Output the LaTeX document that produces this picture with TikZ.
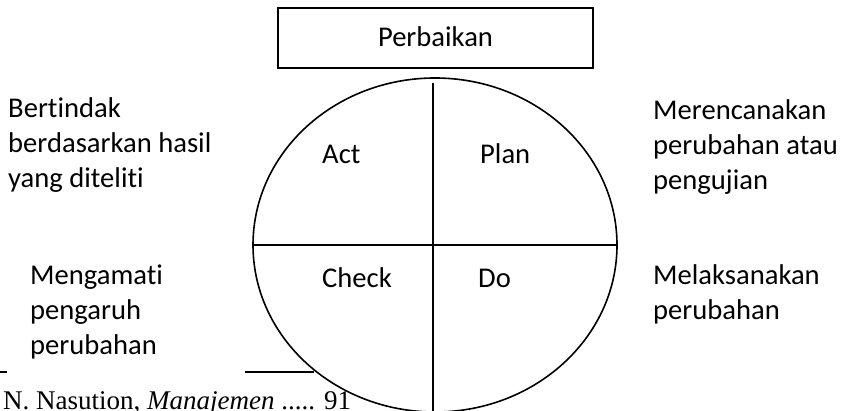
\documentclass[tikz,border=0pt]{standalone}
\usepackage{fontspec}
\setmainfont{Carlito}[Ligatures=CommonOff]
\newfontfamily\refserif{Liberation Serif}
\begin{document}
\begin{tikzpicture}[x=1pt,y=1pt,
  lbl/.style={inner sep=0pt, anchor=base west, align=left, font=\fontsize{28.6}{35}\selectfont},
  ln/.style={line width=1.6pt}]
\useasboundingbox (0,0) rectangle (845,411);
% box
\node[draw, line width=1.6pt, minimum width=315pt, minimum height=60pt, inner sep=0pt] (box) at (435.5,373) {};
\node[inner sep=0pt, anchor=base, font=\fontsize{28.6}{35}\selectfont] (perb) at (435.5,364) {Perbaikan};
% ellipse
\coordinate (c) at (435,166);
\draw[ln] (c) ellipse [x radius=182, y radius=167];
\coordinate (vt) at (433,328);
\coordinate (vb) at (433,-5);
\coordinate (hl) at (253,166);
\coordinate (hr) at (617,166);
\draw[ln] (vt) -- (vb);
\draw[ln] (hl) -- (hr);
% quadrant labels
\node[lbl] (act) at (322,247) {Act};
\node[lbl] (plan) at (480,247) {Plan};
\node[lbl] (check) at (322,123) {Check};
\node[lbl] (do) at (478,123) {Do};
% side texts (base anchor = last line)
\node[lbl] (bert) at (8,223) {Bertindak\\berdasarkan hasil\\yang diteliti};
\node[lbl] (meng) at (30,56) {Mengamati\\pengaruh\\perubahan};
\node[lbl] (mere) at (653,221) {Merencanakan\\perubahan atau\\pengujian};
\node[lbl] (mela) at (653,91) {Melaksanakan\\perubahan};
% footnote rule
\coordinate (r1a) at (0,39);
\coordinate (r1b) at (7,39);
\coordinate (r2a) at (245,39);
\coordinate (r2b) at (314,39);
\draw[line width=2.5pt] (r1a) -- (r1b);
\draw[line width=2.5pt] (r2a) -- (r2b);
\node[inner sep=0pt, anchor=base west, font=\refserif\fontsize{27}{30}\selectfont] (src) at (3,1) {N. Nasution, \textit{Manajemen} ..... 91};
\end{tikzpicture}
\end{document}
